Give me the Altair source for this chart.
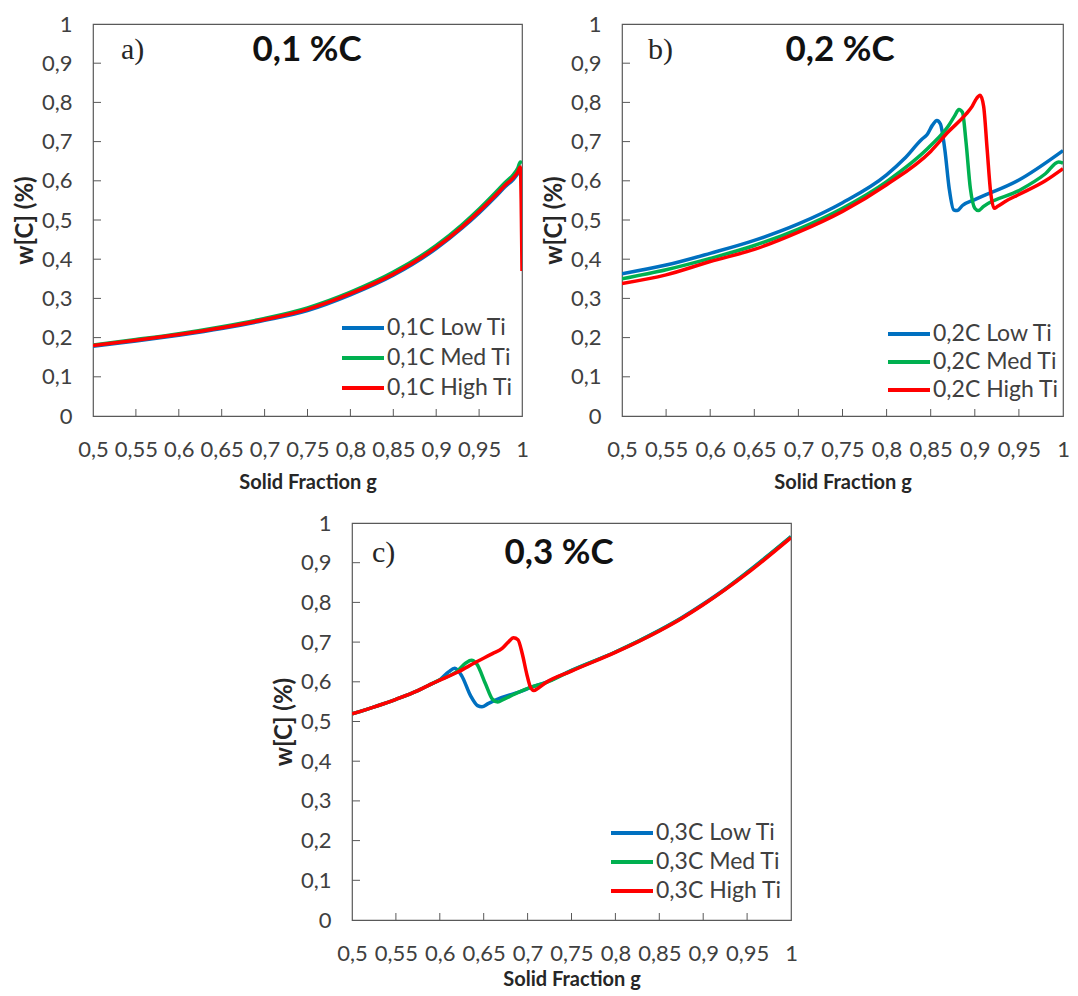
import altair as alt
import pandas as pd

# ---------------- data ----------------
X_TICKS = [0.5, 0.55, 0.6, 0.65, 0.7, 0.75, 0.8, 0.85, 0.9, 0.95, 1.0]
Y_TICKS = [0, 0.1, 0.2, 0.3, 0.4, 0.5, 0.6, 0.7, 0.8, 0.9, 1.0]
COLORS = ["#0070C0", "#00B050", "#FF0000"]

# Panel a) 0,1 %C
a_names = ["0,1C Low Ti", "0,1C Med Ti", "0,1C High Ti"]
a_x = [0.5, 0.55, 0.6, 0.65, 0.7, 0.75, 0.8, 0.85, 0.9, 0.93, 0.95, 0.97, 0.98, 0.99, 0.995, 0.998, 1.0]
a_low = [0.178, 0.191, 0.206, 0.223, 0.244, 0.269, 0.309, 0.359, 0.427, 0.479, 0.518, 0.561, 0.584, 0.604, 0.618, 0.628, 0.63]
a_med = [0.181, 0.195, 0.21, 0.228, 0.249, 0.276, 0.316, 0.367, 0.435, 0.488, 0.528, 0.572, 0.595, 0.616, 0.632, 0.648, 0.645]
a_high = [0.18, 0.193, 0.208, 0.225, 0.246, 0.272, 0.312, 0.362, 0.43, 0.482, 0.522, 0.565, 0.588, 0.608, 0.622, 0.635, 0.37]

# Panel b) 0,2 %C
b_names = ["0,2C Low Ti", "0,2C Med Ti", "0,2C High Ti"]
b_low_x = [0.5, 0.55, 0.6, 0.65, 0.7, 0.75, 0.8, 0.82, 0.84, 0.846, 0.852, 0.857, 0.861, 0.866, 0.871, 0.876, 0.88, 0.886, 0.9, 0.95, 1.0]
b_low_y = [0.363, 0.385, 0.415, 0.448, 0.49, 0.544, 0.615, 0.656, 0.706, 0.718, 0.742, 0.754, 0.745, 0.68, 0.58, 0.526, 0.524, 0.537, 0.552, 0.602, 0.677]
b_med_x = [0.5, 0.55, 0.6, 0.65, 0.7, 0.75, 0.8, 0.85, 0.87, 0.877, 0.882, 0.886, 0.89, 0.895, 0.9, 0.904, 0.91, 0.95, 0.98, 0.995, 1.0]
b_med_y = [0.35, 0.373, 0.402, 0.435, 0.477, 0.53, 0.598, 0.69, 0.74, 0.765, 0.782, 0.775, 0.7, 0.58, 0.53, 0.524, 0.535, 0.575, 0.618, 0.648, 0.645]
b_high_x = [0.5, 0.55, 0.6, 0.65, 0.7, 0.75, 0.8, 0.85, 0.87, 0.89, 0.897, 0.902, 0.906, 0.91, 0.914, 0.918, 0.922, 0.926, 0.935, 0.95, 0.98, 1.0]
b_high_y = [0.338, 0.36, 0.394, 0.425, 0.469, 0.522, 0.59, 0.675, 0.725, 0.77, 0.79, 0.81, 0.818, 0.79, 0.68, 0.57, 0.53, 0.535, 0.548, 0.565, 0.6, 0.631]

# Panel c) 0,3 %C
c_names = ["0,3C Low Ti", "0,3C Med Ti", "0,3C High Ti"]
c_low_x = [0.5, 0.55, 0.575, 0.59, 0.6, 0.61, 0.617, 0.625, 0.635, 0.643, 0.648, 0.655, 0.67, 0.69, 0.705, 0.72, 0.75, 0.8, 0.85, 0.875, 0.9, 0.925, 0.95, 1.0]
c_low_y = [0.519, 0.556, 0.578, 0.594, 0.605, 0.625, 0.634, 0.615, 0.565, 0.54, 0.537, 0.545, 0.56, 0.574, 0.587, 0.598, 0.629, 0.675, 0.73, 0.761, 0.796, 0.834, 0.876, 0.966]
c_med_x = [0.5, 0.55, 0.575, 0.59, 0.6, 0.62, 0.63, 0.636, 0.642, 0.652, 0.66, 0.666, 0.672, 0.69, 0.705, 0.72, 0.75, 0.8, 0.85, 0.875, 0.9, 0.925, 0.95, 1.0]
c_med_y = [0.519, 0.556, 0.578, 0.594, 0.605, 0.627, 0.648, 0.654, 0.645, 0.595, 0.556, 0.549, 0.555, 0.574, 0.587, 0.597, 0.628, 0.675, 0.729, 0.76, 0.795, 0.833, 0.875, 0.965]
c_high_x = [0.5, 0.55, 0.575, 0.59, 0.6, 0.62, 0.64, 0.66, 0.671, 0.678, 0.684, 0.689, 0.694, 0.699, 0.703, 0.707, 0.712, 0.72, 0.75, 0.8, 0.85, 0.875, 0.9, 0.925, 0.95, 1.0]
c_high_y = [0.519, 0.556, 0.578, 0.594, 0.604, 0.624, 0.648, 0.671, 0.684, 0.7, 0.711, 0.706, 0.67, 0.62, 0.588, 0.578, 0.584, 0.597, 0.627, 0.674, 0.728, 0.759, 0.794, 0.832, 0.873, 0.963]

TAGS = ["a)", "b)", "c)"]
TITLES = ["0,1 %C", "0,2 %C", "0,3 %C"]
X_TITLE = "Solid Fraction g"
Y_TITLE = "w[C] (%)"

# ---------------- style ----------------
FONT = "Lato"
FRAME = "#595959"
LABEL_C = "#404040"


def panel(tag, title, names, series, width, height, xtitle_y, head_y, tag_x, title_x, leg_x, leg_y0, leg_dy):
    xs = alt.Scale(domain=[0.5, 1.0], nice=False, zero=False)
    ys = alt.Scale(domain=[0, 1.0], nice=False, zero=False)
    xaxis = alt.Axis(
        values=X_TICKS, labelExpr="replace(format(datum.value, '.2~f'), '.', ',')",
        title=X_TITLE, domain=False, ticks=False, grid=False,
        labelFont=FONT, labelFontSize=22, labelColor=LABEL_C, labelPadding=23,
        labelFlush=False, labelOverlap=False,
        titleFont=FONT, titleFontSize=20, titleFontWeight="bold", titleColor="#262626",
        titleX=width / 2, titleY=xtitle_y, titleBaseline="middle",
    )
    yaxis = alt.Axis(
        values=Y_TICKS, labelExpr="replace(format(datum.value, '.1~f'), '.', ',')",
        title=Y_TITLE, domain=False, ticks=False, grid=False,
        labelFont=FONT, labelFontSize=22, labelColor=LABEL_C, labelPadding=21,
        labelFlush=False, labelOverlap=False,
        titleFont=FONT, titleFontSize=24, titleFontWeight="bold", titleColor="#262626",
        titleX=-68, titleY=height / 2, titleBaseline="middle", titleAngle=270,
    )
    layers = []
    for (gx, wy), col in zip(series, COLORS):
        df = pd.DataFrame({"g": gx, "w": wy})
        layers.append(
            alt.Chart(df).mark_line(color=col, strokeWidth=3.5, interpolate="monotone", clip=True)
            .encode(x=alt.X("g:Q", scale=xs, axis=xaxis), y=alt.Y("w:Q", scale=ys, axis=yaxis))
        )
    # inner ticks
    layers.append(
        alt.Chart(pd.DataFrame({"g": X_TICKS[1:-1]})).mark_rule(color=FRAME, strokeWidth=1)
        .encode(x=alt.X("g:Q", scale=xs, axis=xaxis), y=alt.value(height), y2=alt.value(height - 7))
    )
    layers.append(
        alt.Chart(pd.DataFrame({"w": Y_TICKS[1:-1]})).mark_rule(color=FRAME, strokeWidth=1)
        .encode(y=alt.Y("w:Q", scale=ys, axis=yaxis), x=alt.value(0), x2=alt.value(8))
    )
    # panel tag and title
    layers.append(
        alt.Chart(pd.DataFrame({"t": [tag]})).mark_text(
            font="Liberation Serif", fontSize=30, align="left", baseline="middle", color="#262626")
        .encode(text="t:N", x=alt.value(tag_x), y=alt.value(head_y))
    )
    layers.append(
        alt.Chart(pd.DataFrame({"t": [title]})).mark_text(
            font=FONT, fontSize=35, fontWeight="bold", align="center", baseline="middle", color="#111111")
        .encode(text="t:N", x=alt.value(title_x), y=alt.value(head_y))
    )
    # legend
    for i, (nm, col) in enumerate(zip(names, COLORS)):
        yy = leg_y0 + i * leg_dy
        layers.append(
            alt.Chart(pd.DataFrame({"t": [nm]})).mark_rule(color=col, strokeWidth=4)
            .encode(x=alt.value(leg_x), x2=alt.value(leg_x + 42), y=alt.value(yy))
        )
        layers.append(
            alt.Chart(pd.DataFrame({"t": [nm]})).mark_text(
                font=FONT, fontSize=23, align="left", baseline="middle", color=LABEL_C)
            .encode(text="t:N", x=alt.value(leg_x + 45), y=alt.value(yy))
        )
    return alt.layer(*layers).properties(width=width, height=height)


pa = panel(TAGS[0], TITLES[0], a_names, [(a_x, a_low), (a_x, a_med), (a_x, a_high)],
           429, 392, 66, 26, 28, 214, 249, 304, 30)
pb = panel(TAGS[1], TITLES[1], b_names,
           [(b_low_x, b_low_y), (b_med_x, b_med_y), (b_high_x, b_high_y)],
           441, 392, 66, 26, 26, 218, 266, 310, 28)
pc = panel(TAGS[2], TITLES[2], c_names,
           [(c_low_x, c_low_y), (c_med_x, c_med_y), (c_high_x, c_high_y)],
           439, 397, 59, 30, 20, 207, 259, 310, 29)

spacer = alt.Chart(pd.DataFrame({"v": [0]})).mark_point(opacity=0).encode(
    x=alt.value(0), y=alt.value(0)
).properties(width=177, height=10, view=alt.ViewBackground(stroke="transparent"))

row1 = alt.hconcat(pa, pb, spacing=12)
row2 = alt.hconcat(spacer, pc, spacing=0)

chart = alt.vconcat(row1, row2, spacing=18).properties(
    padding={"left": 4, "top": 4, "right": 0, "bottom": 0}
).configure_view(stroke=FRAME, strokeWidth=1.2)

chart.save("out.html", embed_options={"renderer": "svg", "actions": False})
